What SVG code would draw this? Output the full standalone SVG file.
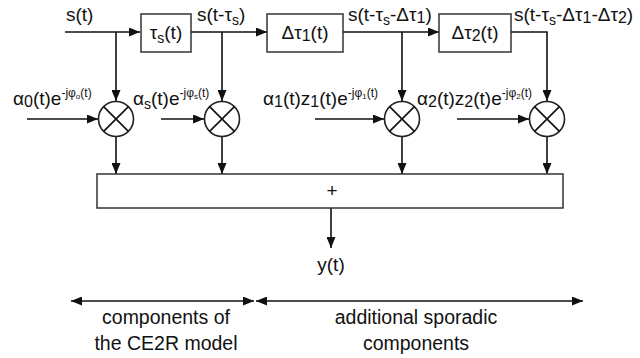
<svg xmlns="http://www.w3.org/2000/svg" width="640" height="358" viewBox="0 0 640 358">
<style>
text{font-family:"Liberation Sans",Arial,sans-serif;font-size:19px;fill:#111}
.box{fill:#fff;stroke:#333;stroke-width:1.5}
.ln{fill:none;stroke:#111;stroke-width:1.6}
.mul{fill:#fff;stroke:#222;stroke-width:1.6}
.sb{font-size:14px}
.sp{font-size:12px}
.ssp{font-size:8px}
.big{font-size:19.5px}
</style>
<defs>
<marker id="ah" markerUnits="userSpaceOnUse" markerWidth="11" markerHeight="9" refX="11" refY="4.5" orient="auto-start-reverse" viewBox="0 0 11 9">
<path d="M0,0 L11,4.5 L0,9 z" fill="#111"/>
</marker>
</defs>
<rect width="640" height="358" fill="#fff"/>
<g id="connectors">
<path class="ln" d="M65,32 H140" marker-end="url(#ah)"/>
<path class="ln" d="M116,32 V101" marker-end="url(#ah)"/>
<path class="ln" d="M191,32 H267" marker-end="url(#ah)"/>
<path class="ln" d="M222,32 V101" marker-end="url(#ah)"/>
<path class="ln" d="M343,32 H439" marker-end="url(#ah)"/>
<path class="ln" d="M402,32 V101" marker-end="url(#ah)"/>
<path class="ln" d="M511,32 H547 V101" marker-end="url(#ah)"/>
<path class="ln" d="M27,119 H98" marker-end="url(#ah)"/>
<path class="ln" d="M161,119 H204" marker-end="url(#ah)"/>
<path class="ln" d="M315,119 H384" marker-end="url(#ah)"/>
<path class="ln" d="M457,119 H529" marker-end="url(#ah)"/>
<path class="ln" d="M116,136.5 V174" marker-end="url(#ah)"/>
<path class="ln" d="M222,136.5 V174" marker-end="url(#ah)"/>
<path class="ln" d="M402,136.5 V174" marker-end="url(#ah)"/>
<path class="ln" d="M547,136.5 V174" marker-end="url(#ah)"/>
<path class="ln" d="M331,208 V248" marker-end="url(#ah)"/>
<path class="ln" d="M71,301 H254" marker-start="url(#ah)" marker-end="url(#ah)"/>
<path class="ln" d="M256,301 H583" marker-start="url(#ah)" marker-end="url(#ah)"/>
</g>
<g id="delay_s">
<rect class="box" x="141" y="14" width="50" height="38"/>
<text x="166" y="39" text-anchor="middle">τ<tspan class="sb" dy="4">s</tspan><tspan dy="-4">(t)</tspan></text>
</g>
<g id="delay_1">
<rect class="box" x="267" y="14" width="76" height="38"/>
<text x="305" y="39" text-anchor="middle">Δτ<tspan font-size="16" dy="2">1</tspan><tspan dy="-2">(t)</tspan></text>
</g>
<g id="delay_2">
<rect class="box" x="439" y="14" width="72" height="38"/>
<text x="475" y="39" text-anchor="middle">Δτ<tspan font-size="16" dy="2">2</tspan><tspan dy="-2">(t)</tspan></text>
</g>
<g id="mult_0">
<circle class="mul" cx="116" cy="119" r="17.5"/>
<path class="ln" d="M103.6,106.6 L128.4,131.4 M128.4,106.6 L103.6,131.4"/>
</g>
<g id="mult_s">
<circle class="mul" cx="222" cy="119" r="17.5"/>
<path class="ln" d="M209.6,106.6 L234.4,131.4 M234.4,106.6 L209.6,131.4"/>
</g>
<g id="mult_1">
<circle class="mul" cx="402" cy="119" r="17.5"/>
<path class="ln" d="M389.6,106.6 L414.4,131.4 M414.4,106.6 L389.6,131.4"/>
</g>
<g id="mult_2">
<circle class="mul" cx="547" cy="119" r="17.5"/>
<path class="ln" d="M534.6,106.6 L559.4,131.4 M559.4,106.6 L534.6,131.4"/>
</g>
<g id="sum">
<rect class="box" x="97" y="174" width="466" height="34"/>
<text x="332" y="197" text-anchor="middle" font-size="16">+</text>
</g>
<g id="labels">
<text x="66" y="21">s(t)</text>
<text x="197" y="21">s(t-τ<tspan class="sb" dy="4">s</tspan><tspan dy="-4">)</tspan></text>
<text x="348" y="21">s(t-τ<tspan class="sb" dy="4">s</tspan><tspan dy="-4">-Δτ</tspan><tspan font-size="16" dy="2">1</tspan><tspan dy="-2">)</tspan></text>
<text x="514" y="21">s(t-τ<tspan class="sb" dy="4">s</tspan><tspan dy="-4">-Δτ</tspan><tspan font-size="16" dy="2">1</tspan><tspan dy="-2">-Δτ</tspan><tspan font-size="16" dy="2">2</tspan><tspan dy="-2">)</tspan></text>
<text x="13" y="105">α<tspan font-size="16" dy="2">0</tspan><tspan dy="-2">(t)e</tspan><tspan class="sp" dy="-8">-jφ</tspan><tspan class="ssp" dy="2">o</tspan><tspan class="sp" dy="-2">(t)</tspan></text>
<text x="133" y="105">α<tspan class="sb" dy="4">s</tspan><tspan dy="-4">(t)e</tspan><tspan class="sp" dy="-8">-jφ</tspan><tspan class="ssp" dy="2">s</tspan><tspan class="sp" dy="-2">(t)</tspan></text>
<text x="263" y="105">α<tspan font-size="16" dy="2">1</tspan><tspan dy="-2">(t)z</tspan><tspan font-size="16" dy="2">1</tspan><tspan dy="-2">(t)e</tspan><tspan class="sp" dy="-8">-jφ</tspan><tspan class="ssp" dy="2">1</tspan><tspan class="sp" dy="-2">(t)</tspan></text>
<text x="417" y="105">α<tspan font-size="16" dy="2">2</tspan><tspan dy="-2">(t)z</tspan><tspan font-size="16" dy="2">2</tspan><tspan dy="-2">(t)e</tspan><tspan class="sp" dy="-8">-jφ</tspan><tspan class="ssp" dy="2">2</tspan><tspan class="sp" dy="-2">(t)</tspan></text>
<text x="331" y="271" text-anchor="middle">y(t)</text>
<text class="big" x="166" y="324" text-anchor="middle">components of</text>
<text class="big" x="166" y="350" text-anchor="middle">the CE2R model</text>
<text class="big" x="416" y="324" text-anchor="middle">additional sporadic</text>
<text class="big" x="416" y="350" text-anchor="middle">components</text>
</g>
</svg>
